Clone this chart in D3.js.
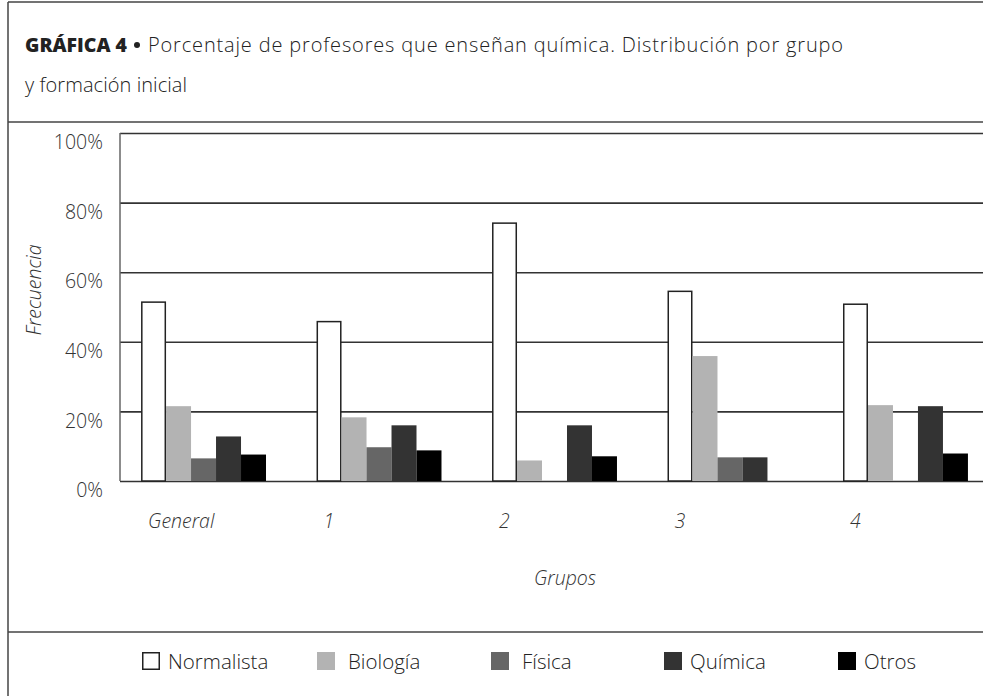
<!DOCTYPE html>
<html>
<head>
<meta charset="utf-8">
<script src="https://cdn.jsdelivr.net/npm/d3@7"></script>
<style>
  body { margin: 0; background: #fff; }
  svg { display: block; font-family: "Open Sans", Lato, sans-serif; }
</style>
</head>
<body>
<div id="chart"></div>
<script>
// Porcentaje de profesores que enseñan química, por grupo y formación
var grupos = ["General", "1", "2", "3", "4"];
var formaciones = ["Normalista", "Biología", "Física", "Química", "Otros"];
var normalista = [51.4, 45.8, 74.1, 54.5, 50.8];
var biologia = [21.5, 18.3, 5.9, 35.9, 21.8];
var fisica = [6.5, 9.7, 0, 6.8, 0];
var quimica = [12.8, 16.0, 16.0, 6.8, 21.5];
var otros = [7.6, 8.8, 7.1, 0, 7.9];
var yTicks = [0, 20, 40, 60, 80, 100];

var series = [normalista, biologia, fisica, quimica, otros];
var colores = ["#ffffff", "#b3b3b3", "#666666", "#333333", "#000000"];

var W = 983, H = 696;
var plot = {left: 120, right: 983, top: 133, bottom: 481};
var fs = 19.5;

var svg = d3.select("#chart").append("svg")
    .attr("width", W)
    .attr("height", H);

// frame
var frame = svg.append("g").attr("stroke", "#444").attr("stroke-width", 1.5);
frame.append("line").attr("x1", 8).attr("x2", W).attr("y1", 2).attr("y2", 2);
frame.append("line").attr("x1", 8).attr("x2", 8).attr("y1", 2).attr("y2", H);
frame.append("line").attr("x1", 8).attr("x2", W).attr("y1", 122).attr("y2", 122);
frame.append("line").attr("x1", 8).attr("x2", W).attr("y1", 632).attr("y2", 632);

// title
svg.append("text")
    .attr("x", 25)
    .attr("y", 52)
    .attr("font-size", 20)
    .attr("font-weight", 800)
    .attr("fill", "#222")
    .attr("textLength", 102)
    .attr("lengthAdjust", "spacingAndGlyphs")
    .text("GRÁFICA 4");
svg.append("circle")
    .attr("cx", 137)
    .attr("cy", 45)
    .attr("r", 3)
    .attr("fill", "#222");
svg.append("text")
    .attr("x", 148)
    .attr("y", 52)
    .attr("font-size", 20)
    .attr("font-weight", 300)
    .attr("fill", "#222")
    .attr("textLength", 695)
    .text("Porcentaje de profesores que enseñan química. Distribución por grupo");
svg.append("text")
    .attr("x", 25)
    .attr("y", 92)
    .attr("font-size", 20)
    .attr("font-weight", 300)
    .attr("fill", "#222")
    .attr("textLength", 162)
    .text("y formación inicial");

var x0 = d3.scaleBand()
    .domain(grupos)
    .range([plot.left, 989])
    .paddingInner(0.288)
    .paddingOuter(0.12);

var x1 = d3.scaleBand()
    .domain(formaciones)
    .range([0, x0.bandwidth()]);

var y = d3.scaleLinear()
    .domain([0, 100])
    .range([plot.bottom, plot.top]);

// y axis with gridlines
var yAxis = d3.axisLeft(y)
    .tickValues(yTicks)
    .tickFormat(function(d) { return d + "%"; })
    .tickSize(-(plot.right - plot.left))
    .tickPadding(17);

var gy = svg.append("g")
    .attr("transform", "translate(" + plot.left + ",0)")
    .call(yAxis);
gy.select(".domain").remove();
gy.selectAll(".tick line")
    .attr("stroke", "#333")
    .attr("stroke-width", 1.6);
gy.selectAll(".tick text")
    .attr("dy", "0.8em")
    .attr("font-size", fs)
    .attr("font-weight", 300)
    .attr("fill", "#333")
    .attr("font-family", "'Open Sans', sans-serif");

svg.append("line")
    .attr("x1", plot.left).attr("x2", plot.left)
    .attr("y1", plot.top).attr("y2", plot.bottom)
    .attr("stroke", "#666")
    .attr("stroke-width", 1.5);

// bars
var rows = grupos.map(function(g, i) {
  return formaciones.map(function(f, j) {
    return {grupo: g, formacion: f, valor: series[j][i], color: colores[j]};
  });
});

svg.append("g").selectAll("g")
    .data(rows)
  .enter().append("g")
    .attr("transform", function(d, i) { return "translate(" + x0(grupos[i]) + ",0)"; })
  .selectAll("rect")
    .data(function(d) { return d.filter(function(e) { return e.valor > 0; }); })
  .enter().append("rect")
    .attr("x", function(d) { return x1(d.formacion) + (d.formacion === "Normalista" ? 0.75 : 0); })
    .attr("y", function(d) { return y(d.valor); })
    .attr("width", function(d) { return x1.bandwidth() - (d.formacion === "Normalista" ? 1.5 : 0); })
    .attr("height", function(d) { return y(0) - y(d.valor); })
    .attr("fill", function(d) { return d.color; })
    .attr("stroke", function(d) { return d.formacion === "Normalista" ? "#222" : "none"; })
    .attr("stroke-width", 1.5);

// x axis labels (left-aligned under each group)
var xAxis = d3.axisBottom(x0).tickSize(0).tickPadding(0);
var gx = svg.append("g")
    .attr("transform", "translate(0," + 514 + ")")
    .call(xAxis);
gx.select(".domain").remove();
gx.selectAll(".tick text")
    .attr("x", -x0.bandwidth() / 2 + 7)
    .attr("dy", "0.71em")
    .attr("text-anchor", "start")
    .attr("font-size", fs)
    .attr("font-style", "italic")
    .attr("font-weight", 300)
    .attr("fill", "#333")
    .attr("font-family", "'Open Sans', sans-serif");

svg.append("text")
    .attr("x", 565)
    .attr("y", 585)
    .attr("text-anchor", "middle")
    .attr("font-size", fs)
    .attr("font-style", "italic")
    .attr("font-weight", 300)
    .attr("fill", "#333")
    .text("Grupos");

svg.append("text")
    .attr("transform", "translate(41,290) rotate(-90)")
    .attr("text-anchor", "middle")
    .attr("font-size", fs)
    .attr("font-style", "italic")
    .attr("font-weight", 300)
    .attr("fill", "#333")
    .text("Frecuencia");

// legend
var legendX = [142, 317, 491, 664, 838];
var legend = svg.append("g").selectAll("g")
    .data(formaciones)
  .enter().append("g")
    .attr("transform", function(d, i) { return "translate(" + legendX[i] + ",652)"; });
legend.append("rect")
    .attr("x", function(d, i) { return i === 0 ? 0.75 : 0; })
    .attr("y", function(d, i) { return i === 0 ? 0.75 : 0; })
    .attr("width", function(d, i) { return i === 0 ? 16.5 : 18; })
    .attr("height", function(d, i) { return i === 0 ? 16.5 : 18; })
    .attr("fill", function(d, i) { return colores[i]; })
    .attr("stroke", function(d, i) { return i === 0 ? "#222" : "none"; })
    .attr("stroke-width", 1.5);
legend.append("text")
    .attr("x", function(d, i) { return [26, 31, 31, 26, 26][i]; })
    .attr("y", 17)
    .attr("font-size", 20.5)
    .attr("font-weight", 300)
    .attr("fill", "#222")
    .text(function(d) { return d; });
</script>
</body>
</html>
